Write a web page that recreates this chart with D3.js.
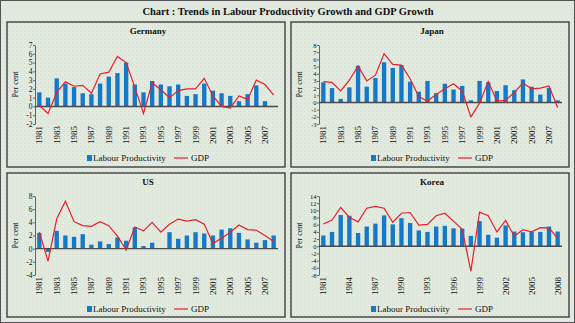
<!DOCTYPE html>
<html>
<head>
<meta charset="utf-8">
<script src="https://cdn.jsdelivr.net/npm/d3@7"></script>
<style>
  body { margin: 0; background: #fff; }
  svg { display: block; }
  text { font-family: "Liberation Serif", "DejaVu Serif", serif; fill: #111; }
</style>
</head>
<body>
<div id="chart"></div>
<script>
// Years on the x axis
const years = d3.range(1981, 2009);

// Labour productivity growth (bars) and GDP growth (line), per cent
const germanyLP  = [1.6, 1.0, 3.2, 2.6, 2.2, 1.5, 1.4, 2.6, 3.4, 3.8, 5.0, 2.5, 1.6, 2.9, 2.5, 2.3, 2.5, 1.2, 1.4, 2.6, 1.8, 1.5, 1.2, 0.6, 1.4, 2.4, 0.6, null];
const germanyGDP = [0.1, -0.8, 1.6, 2.8, 2.3, 2.4, 1.5, 3.7, 3.9, 5.7, 5.0, 2.2, -0.8, 2.7, 1.9, 1.0, 1.8, 2.0, 2.0, 3.2, 1.2, 0.0, -0.2, 1.2, 0.8, 3.0, 2.5, 1.3];

const japanLP  = [2.8, 2.0, 0.5, 2.1, 5.1, 2.2, 3.4, 5.6, 4.8, 5.2, 2.9, 1.5, 3.0, 1.3, 2.6, 1.8, 2.3, 0.3, 3.0, 2.8, 1.6, 2.4, 1.7, 3.2, 2.2, 1.1, 2.0, 0.3];
const japanGDP = [2.9, 2.8, 1.6, 3.1, 5.1, 3.0, 3.8, 6.8, 5.3, 5.2, 3.3, 0.8, 0.2, 1.1, 1.9, 2.6, 1.6, -2.0, -0.1, 2.9, 0.2, 0.3, 1.4, 2.7, 1.9, 2.0, 2.3, -0.7];

const usLP  = [2.4, -0.5, 2.7, 2.0, 1.8, 2.2, 0.6, 1.1, 0.7, 1.7, 1.2, 3.2, 0.4, 0.9, null, 2.5, 1.5, 2.0, 2.5, 2.3, 2.0, 2.9, 3.1, 2.4, 1.4, 0.9, 1.3, 2.0];
const usGDP = [2.5, -1.9, 4.5, 7.2, 4.1, 3.5, 3.4, 4.1, 3.5, 1.9, -0.2, 3.3, 2.7, 4.0, 2.5, 3.7, 4.5, 4.2, 4.4, 3.7, 0.8, 1.6, 2.5, 3.6, 2.9, 2.8, 2.0, 1.1];

const koreaLP  = [3.0, 4.0, 8.7, 8.5, 3.7, 5.5, 6.3, 8.6, 6.1, 7.8, 6.5, 4.4, 4.0, 5.5, 5.7, 5.0, 4.9, 2.9, 7.0, 3.2, 2.4, 5.8, 4.1, 3.9, 4.0, 4.0, 5.5, 4.1];
const koreaGDP = [6.2, 7.3, 10.8, 8.1, 6.8, 10.6, 11.1, 10.6, 6.7, 9.2, 9.4, 5.9, 6.1, 8.5, 9.2, 7.0, 4.7, -6.9, 9.5, 8.5, 4.0, 7.2, 2.8, 4.6, 4.0, 5.2, 5.1, 2.2];

// Panel settings
const panels = [
  { name: "Germany", lp: germanyLP, gdp: germanyGDP, x: 7,   y: 22,  h: 145, yMin: -2, yMax: 7,  yStep: 1, labelEvery: 2 },
  { name: "Japan",   lp: japanLP,   gdp: japanGDP,   x: 291, y: 22,  h: 145, yMin: -3, yMax: 8,  yStep: 1, labelEvery: 2 },
  { name: "US",      lp: usLP,      gdp: usGDP,      x: 7,   y: 173, h: 144, yMin: -4, yMax: 8,  yStep: 2, labelEvery: 2 },
  { name: "Korea",   lp: koreaLP,   gdp: koreaGDP,   x: 291, y: 173, h: 144, yMin: -8, yMax: 14, yStep: 2, labelEvery: 3 }
];

const width = 575, height = 323;
const barColor = "#1479c9";
const lineColor = "#e8202a";
const bgColor = "#e3eadf";

const svg = d3.select("#chart").append("svg")
    .attr("width", width)
    .attr("height", height);

// Dotted paper texture
const defs = svg.append("defs");
const pat = defs.append("pattern")
    .attr("id", "dots")
    .attr("width", 4).attr("height", 4)
    .attr("patternUnits", "userSpaceOnUse");
pat.append("rect").attr("width", 4).attr("height", 4).attr("fill", bgColor);
pat.append("rect").attr("x", 1).attr("y", 1).attr("width", 1).attr("height", 1).attr("fill", "#cfd8cb");
pat.append("rect").attr("x", 3).attr("y", 3).attr("width", 1).attr("height", 1).attr("fill", "#d6ded2");

svg.append("rect")
    .attr("x", 0.5).attr("y", 0.5)
    .attr("width", width - 1).attr("height", height - 1)
    .attr("fill", "url(#dots)")
    .attr("stroke", "#555");

svg.append("text")
    .attr("x", 288).attr("y", 15)
    .attr("text-anchor", "middle")
    .style("font-size", "10.5px")
    .style("font-weight", "bold")
    .text("Chart : Trends in Labour Productivity Growth and GDP Growth");

panels.forEach(function (p) {
    const g = svg.append("g").attr("transform", "translate(" + p.x + "," + p.y + ")");
    const pw = 278;

    g.append("rect")
        .attr("width", pw).attr("height", p.h)
        .attr("fill", "url(#dots)")
        .attr("stroke", "#333")
        .attr("stroke-width", 1.3);

    g.append("text")
        .attr("x", pw / 2 + 2).attr("y", 11.5)
        .attr("text-anchor", "middle")
        .style("font-size", "9px")
        .style("font-weight", "bold")
        .text(p.name);

    const x = d3.scaleBand()
        .domain(years)
        .range([28, 271])
        .paddingInner(0.5)
        .paddingOuter(0.25);

    const y = d3.scaleLinear()
        .domain([p.yMin, p.yMax])
        .range([102, 23]);

    // y axis; tighter scales get a smaller font
    const nTicks = (p.yMax - p.yMin) / p.yStep;
    const tickFont = (79 / nTicks) < 8 ? "6.4px" : "7.5px";
    const yAxis = d3.axisLeft(y)
        .tickValues(d3.range(p.yMin, p.yMax + 0.001, p.yStep))
        .tickFormat(d3.format("d"))
        .tickSize(2)
        .tickSizeOuter(0);
    const ya = g.append("g")
        .attr("transform", "translate(28,0)")
        .call(yAxis);
    ya.select(".domain").attr("stroke", "#666");
    ya.selectAll(".tick line").attr("stroke", "#666");
    ya.selectAll("text")
        .attr("x", -2.5)
        .style("font-family", "Liberation Serif, serif")
        .style("font-size", tickFont)
        .attr("fill", "#111")
        .text(function (d) { return d < 0 ? "-" + Math.abs(d) : d; });

    g.append("text")
        .attr("transform", "translate(11," + y((p.yMin + p.yMax) / 2) + ")rotate(-90)")
        .attr("text-anchor", "middle")
        .style("font-size", "8px")
        .text("Per cent");

    // bars
    const barData = years.map(function (yr, i) { return { year: yr, v: p.lp[i] }; })
        .filter(function (d) { return d.v != null; });
    g.selectAll(".bar")
        .data(barData)
        .enter().append("rect")
        .attr("class", "bar")
        .attr("x", function (d) { return x(d.year); })
        .attr("width", x.bandwidth())
        .attr("y", function (d) { return y(Math.max(0, d.v)); })
        .attr("height", function (d) { return Math.abs(y(d.v) - y(0)); })
        .attr("fill", barColor);

    // zero line
    g.append("line")
        .attr("x1", 28).attr("x2", 271)
        .attr("y1", y(0)).attr("y2", y(0))
        .attr("stroke", "#4a4a4a")
        .attr("stroke-width", 1.4);

    // GDP line
    const line = d3.line()
        .defined(function (d) { return d != null; })
        .x(function (d, i) { return x(years[i]) + x.bandwidth() / 2; })
        .y(function (d) { return y(d); });
    g.append("path")
        .datum(p.gdp)
        .attr("d", line)
        .attr("fill", "none")
        .attr("stroke", lineColor)
        .attr("stroke-width", 1.2);

    // x labels, rotated
    g.selectAll(".xl")
        .data(years.filter(function (yr, i) { return i % p.labelEvery === 0; }))
        .enter().append("text")
        .attr("class", "xl")
        .attr("transform", function (d) {
            return "translate(" + (x(d) + x.bandwidth() / 2) + ",104)rotate(-90)";
        })
        .attr("text-anchor", "end")
        .attr("dy", "0.33em")
        .style("font-size", "9px")
        .text(function (d) { return d; });

    // legend
    const lg = g.append("g").attr("transform", "translate(0,136)");
    lg.append("rect")
        .attr("x", 80).attr("y", -3)
        .attr("width", 5).attr("height", 6)
        .attr("fill", barColor);
    lg.append("text")
        .attr("x", 86).attr("y", 3)
        .style("font-size", "9px")
        .text("Labour Productivity");
    lg.append("line")
        .attr("x1", 167).attr("x2", 181)
        .attr("y1", 0).attr("y2", 0)
        .attr("stroke", lineColor)
        .attr("stroke-width", 1.2);
    lg.append("text")
        .attr("x", 184).attr("y", 3)
        .style("font-size", "9px")
        .text("GDP");
});
</script>
</body>
</html>
